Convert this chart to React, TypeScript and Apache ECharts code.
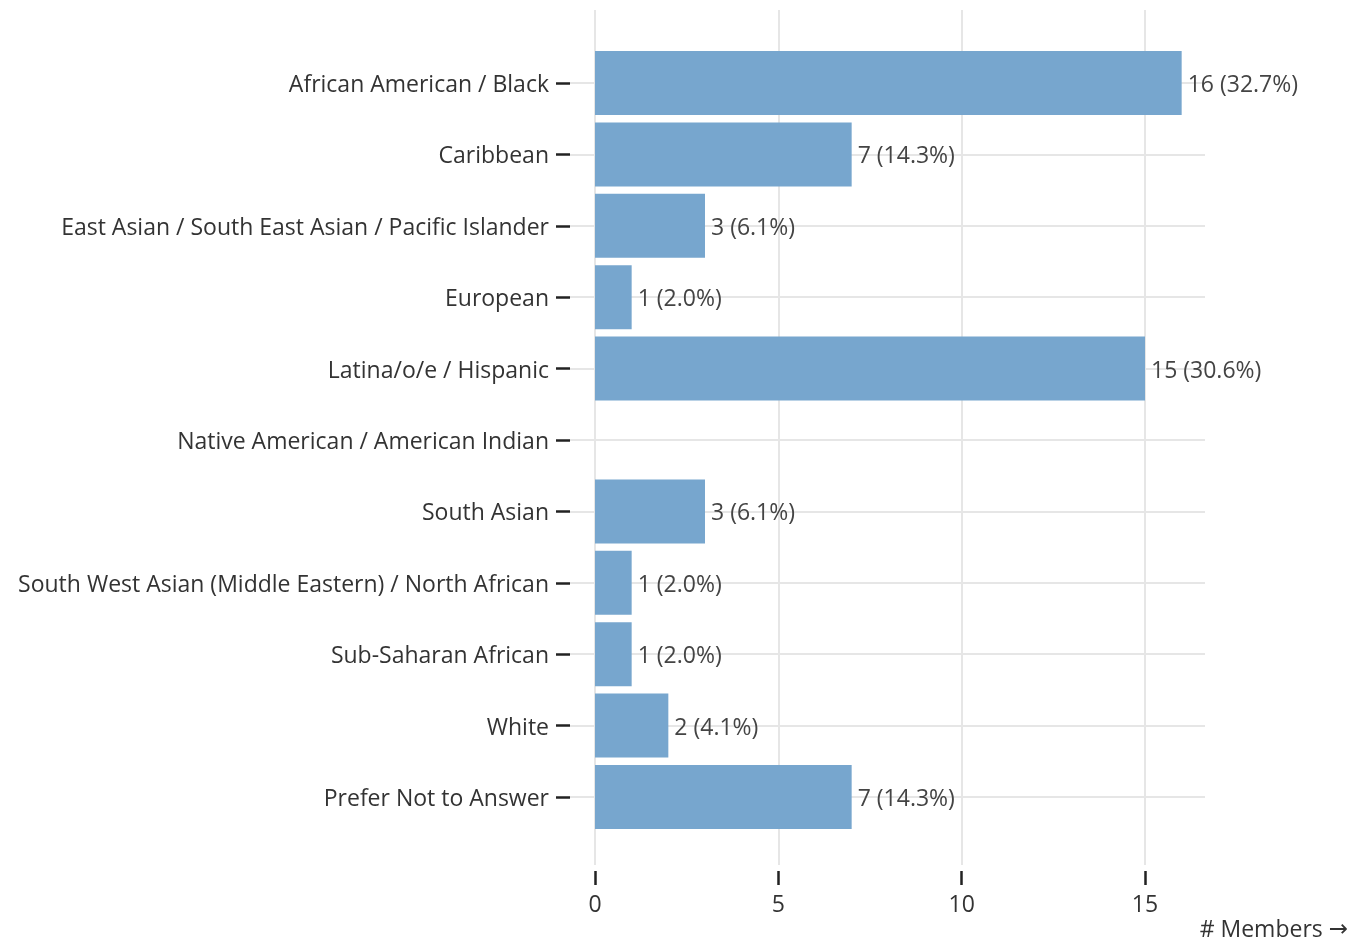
import React, { useEffect, useRef } from "react";
import * as echarts from "echarts";

const categories = [
  "African American / Black",
  "Caribbean",
  "East Asian / South East Asian / Pacific Islander",
  "European",
  "Latina/o/e / Hispanic",
  "Native American / American Indian",
  "South Asian",
  "South West Asian (Middle Eastern) / North African",
  "Sub-Saharan African",
  "White",
  "Prefer Not to Answer",
];
const members = [16, 7, 3, 1, 15, 0, 3, 1, 1, 2, 7];
const totalRespondents = 49;
const xTicks = [0, 5, 10, 15];

const FONT = "'Open Sans', 'Noto Sans', sans-serif";
const TEXT = "#333";
const GRID = "#e6e6e6";
const FS = 23;

export default function App() {
  const ref = useRef<HTMLDivElement>(null);
  useEffect(() => {
    if (!ref.current) return;
    const chart = echarts.init(ref.current, null, { renderer: "svg" });
    const pxPerUnit = 550 / 15;
    const xMin1 = -25 / pxPerUnit;
    const xMax1 = 610 / pxPerUnit;
    const tickMin = xTicks[0];
    const tickMax = xTicks[xTicks.length - 1];
    chart.setOption({
      animation: false,
      textStyle: { fontFamily: FONT },
      grid: [
        { left: 595, width: 550, top: 10, height: 855 },
        { left: 570, width: 635, top: 83, height: 714 },
        { left: 595, width: 550, top: 10, height: 861 },
      ],
      xAxis: [
        {
          gridIndex: 0,
          type: "value",
          min: tickMin,
          max: tickMax,
          interval: 5,
          axisLine: { show: false },
          axisTick: { show: false },
          axisLabel: { show: false },
          splitLine: { show: true, lineStyle: { color: GRID, width: 2 } },
        },
        {
          gridIndex: 1,
          type: "value",
          min: xMin1,
          max: xMax1,
          show: false,
          splitLine: { show: false },
        },
        {
          gridIndex: 2,
          type: "value",
          min: tickMin,
          max: tickMax,
          interval: 5,
          axisLine: { show: false, onZero: false },
          axisTick: { show: true, length: 14, lineStyle: { color: "#222", width: 2.5 } },
          axisLabel: { margin: 20, fontSize: FS, color: TEXT, fontFamily: FONT },
          splitLine: { show: false },
        },
      ],
      yAxis: [
        { gridIndex: 0, type: "value", show: false, splitLine: { show: false } },
        {
          gridIndex: 1,
          type: "category",
          data: categories,
          inverse: true,
          boundaryGap: false,
          axisLine: { show: false, onZero: false },
          axisTick: { show: true, length: 14, lineStyle: { color: "#222", width: 2.5 } },
          axisLabel: { margin: 21, fontSize: FS, color: TEXT, fontFamily: FONT },
          splitLine: { show: true, lineStyle: { color: GRID, width: 2 } },
        },
        { gridIndex: 2, type: "value", show: false, splitLine: { show: false } },
      ],
      series: [
        {
          type: "bar",
          xAxisIndex: 1,
          yAxisIndex: 1,
          data: members,
          barWidth: 64,
          clip: false,
          itemStyle: { color: "#77a6ce" },
          label: {
            show: true,
            position: "right",
            distance: 6,
            fontSize: FS,
            color: "#444",
            fontFamily: FONT,
            formatter: (p: any) =>
              p.value > 0
                ? `${p.value} (${((p.value / totalRespondents) * 100).toFixed(1)}%)`
                : "",
          },
        },
      ],
      graphic: [
        {
          type: "text",
          right: 2,
          top: 916,
          style: {
            text: "# Members {a|→}",
            fontSize: FS,
            fill: TEXT,
            fontFamily: FONT,
            rich: {
              a: { fontSize: FS, fill: TEXT, fontFamily: "'DejaVu Sans', sans-serif" },
            },
          },
        },
      ],
    });
    return () => chart.dispose();
  }, []);
  return (
    <div
      ref={ref}
      style={{ position: "fixed", left: 0, top: 0, width: 1350, height: 942 }}
    />
  );
}
